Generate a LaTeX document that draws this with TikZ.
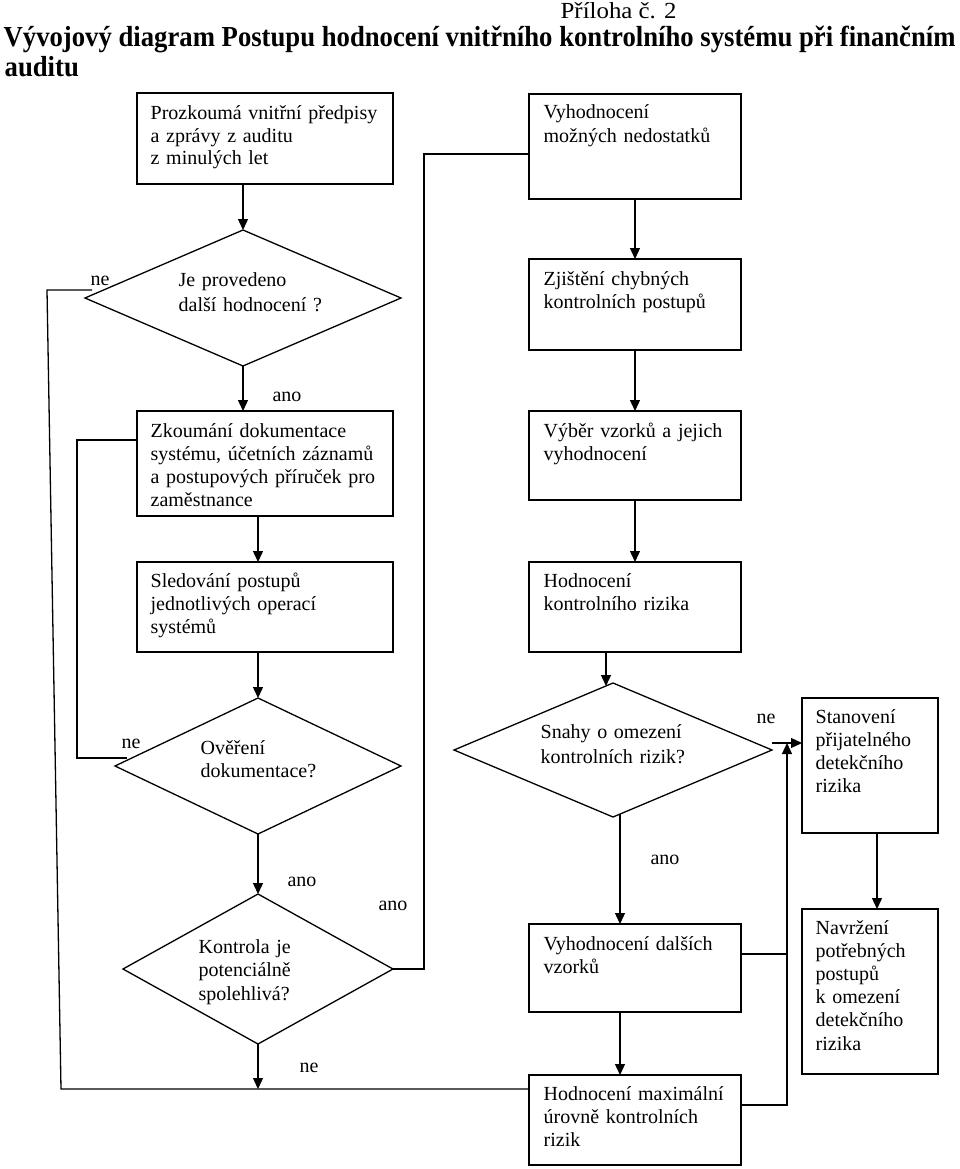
\documentclass[tikz,border=0pt]{standalone}
\usepackage{fontspec}
\setmainfont{Liberation Serif}
\usetikzlibrary{arrows.meta,shapes.geometric}
\newlength\titlew
\newlength\prilw
\newcommand\mkbox[5]{\node[box, anchor=north west, minimum width={#4-#2}, minimum height={#5-#3}] (#1) at (#2,#3) {};}
\newcommand\titletext{Vývojový diagram Postupu hodnocení vnitřního kontrolního systému při finančním}
\begin{document}
\settowidth\titlew{\fontsize{29}{32}\selectfont\bfseries\titletext}%
\settowidth\prilw{\fontsize{23}{26}\selectfont Příloha č. 2}%
\pgfmathsetmacro\tsx{952/\titlew}%
\pgfmathsetmacro\psx{116/\prilw}%
\begin{tikzpicture}[x=1pt,y=-1pt,
  line width=1.3pt,
  box/.style={draw, rectangle, inner sep=0pt, outer sep=0pt},
  dia/.style={draw, diamond, inner sep=0pt, outer sep=0pt},
  txt/.style={anchor=base west, inner sep=0pt, text width=300pt, align=left, font=\fontsize{20}{23.2}\selectfont},
  dtxt/.style={anchor=base west, inner sep=0pt, text width=300pt, align=left, font=\fontsize{20}{#1}\selectfont},
  lbl/.style={anchor=base, inner sep=0pt, font=\fontsize{20}{23.2}\selectfont},
  arr/.style={-{Triangle[length=11pt,width=10pt]}}
]
\useasboundingbox (0,0) rectangle (960,1169);
% title
\node[anchor=base west, inner sep=0pt] (pril) at (560,19) {\scalebox{\psx}[1]{\fontsize{23}{26}\selectfont Příloha č. 2}};
\node[anchor=base west, inner sep=0pt] (tit1) at (3,47) {\scalebox{\tsx}[1]{\fontsize{29}{32}\selectfont\bfseries\titletext}};
\node[anchor=base west, inner sep=0pt] (tit2) at (4,77) {\scalebox{\tsx}[1]{\fontsize{29}{32}\selectfont\bfseries auditu}};

% boxes
\mkbox{b1}{137}{93}{393}{184}
\mkbox{b2}{529}{94}{741}{199}
\mkbox{b4}{529}{259}{741}{350}
\mkbox{b3}{137}{411}{393}{516}
\mkbox{b5}{529}{411}{741}{500}
\mkbox{b6}{137}{562}{393}{652}
\mkbox{b7}{529}{562}{741}{652}
\mkbox{b8}{802}{698}{938}{833}
\mkbox{b9}{529}{924}{741}{1012}
\mkbox{b10}{802}{909}{938}{1074}
\mkbox{b11}{529}{1075}{741}{1165}

% diamonds
\node[dia, minimum width=316, minimum height=136] (d1) at (243,298) {};
\node[dia, minimum width=286, minimum height=136] (d2) at (258,766) {};
\node[dia, minimum width=318, minimum height=134] (d3) at (613,750) {};
\node[dia, minimum width=270, minimum height=150] (d4) at (258,969) {};

% box texts
\node[dtxt=22.5] (t1) at (150,120) {Prozkoumá vnitřní předpisy\\a zprávy z auditu\\z minulých let};
\node[txt] (t2) at (543,119) {Vyhodnocení\\možných nedostatků};
\node[txt] (t4) at (543,285) {Zjištění chybných\\kontrolních postupů};
\node[txt] (t3) at (150,437) {Zkoumání dokumentace\\systému, účetních záznamů\\a postupových příruček pro\\zaměstnance};
\node[txt] (t5) at (543,437) {Výběr vzorků a jejich\\vyhodnocení};
\node[txt] (t6) at (150,587) {Sledování postupů\\jednotlivých operací\\systémů};
\node[txt] (t7) at (543,587) {Hodnocení\\kontrolního rizika};
\node[txt] (t8) at (815,723) {Stanovení\\přijatelného\\detekčního\\rizika};
\node[txt] (t9) at (543,950) {Vyhodnocení dalších\\vzorků};
\node[txt] (t10) at (815,934) {Navržení\\potřebných\\postupů\\k omezení\\detekčního\\rizika};
\node[txt] (t11) at (543,1100) {Hodnocení maximální\\úrovně kontrolních\\rizik};

% diamond texts
\node[dtxt=25] (td1) at (178,286) {Je provedeno\\další hodnocení ?};
\node[dtxt=23.5] (td2) at (200,754) {Ověření\\dokumentace?};
\node[dtxt=25] (td3) at (540,738) {Snahy o omezení\\kontrolních rizik?};
\node[dtxt=23.5] (td4) at (198,953) {Kontrola je\\potenciálně\\spolehlivá?};

% labels
\node[lbl] (n1) at (100,285) {ne};
\node[lbl] (a1) at (287,401) {ano};
\node[lbl] (n2) at (131,748) {ne};
\node[lbl] (a2) at (302,886) {ano};
\node[lbl] (a3) at (393,910) {ano};
\node[lbl] (n3) at (309,1072) {ne};
\node[lbl] (n4) at (766,723) {ne};
\node[lbl] (a4) at (665,864) {ano};

% coordinates
\coordinate (l1) at (92,290);
\coordinate (l2) at (47,290);
\coordinate (l3) at (61,1089);
\coordinate (j1) at (258,1089);
\coordinate (l4) at (127,758);
\coordinate (l5) at (77,758);
\coordinate (l6) at (77,440);
\coordinate (m1) at (424,154);
\coordinate (r1) at (787,954);
\coordinate (r2) at (787,1105);
\coordinate (r3) at (787,743);

% connectors
\draw[arr] ([xshift=-22pt]b1.south) -- ([xshift=-22pt]b1.south |- d1.north);
\draw[arr] (d1.south) -- (d1.south |- b3.north);
\draw[arr] ([xshift=-7pt]b3.south) -- ([xshift=-7pt]b6.north);
\draw[arr] ([xshift=-7pt]b6.south) -- ([xshift=-7pt]b6.south |- d2.north);
\draw[arr] (d2.south) -- (d4.north);
\draw[arr] (d4.south) -- (j1);
\draw (l1) -- (l2) -- (l3) -- (l3 -| b11.west);
\draw (l4) -- (l5) -- (l6) -- (l6 -| b3.west);
\draw (d4.east) -| (m1) -- (m1 -| b2.west);
\draw[arr] (b2.south) -- (b4.north);
\draw[arr] (b4.south) -- (b5.north);
\draw[arr] (b5.south) -- (b7.north);
\draw[arr] ([xshift=-29pt]b7.south) -- ([xshift=-29pt,yshift=-3pt]b7.south |- d3.north);
\draw[arr] ([xshift=7pt,yshift=3pt]d3.south) -- ([xshift=7pt]d3.south |- b9.north);
\draw[arr] ([xshift=-15pt]b9.south) -- ([xshift=-15pt]b11.north);
\draw[arr] ([yshift=7pt]d3.east) -- ([yshift=7pt]d3.east -| b8.west);
\draw[arr] ([xshift=7pt]b8.south) -- ([xshift=7pt]b8.south |- b10.north);
\draw (r1 -| b9.east) -- (r1);
\draw[arr] (r2 -| b11.east) -- (r2) -- (r3);
\end{tikzpicture}
\end{document}
